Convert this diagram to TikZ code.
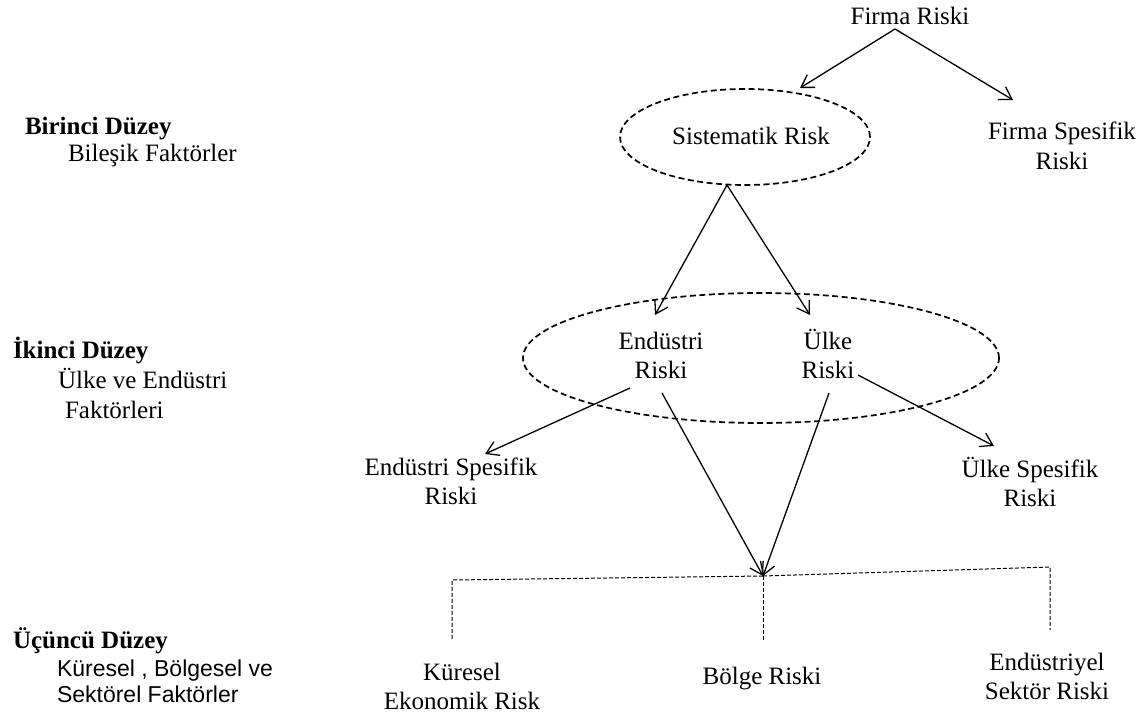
\documentclass[tikz,border=0pt]{standalone}
\usepackage{fontspec}
\setmainfont{Liberation Serif}
\newfontfamily\sansf{Liberation Sans}
\usetikzlibrary{shapes.geometric,arrows.meta}

\begin{document}
\begin{tikzpicture}[x=1pt,y=-1pt,
  lbl/.style={inner sep=0pt,outer sep=0pt,anchor=base,align=center,
              font=\fontsize{25}{29}\selectfont},
  side/.style={inner sep=0pt,outer sep=0pt,anchor=base west,
               font=\fontsize{25}{29}\selectfont},
  sideb/.style={side,font=\fontsize{25}{29}\selectfont\bfseries},
  sides/.style={side,font=\fontsize{23}{27}\selectfont\sansf},
  zone/.style={ellipse,draw,inner sep=0pt,outer sep=0pt,line width=1.7pt,
               dash pattern=on 6pt off 3.5pt},
  conn/.style={line width=1.3pt,-{Straight Barb[length=12pt,width=15pt]}},
  guide/.style={line width=1pt,dash pattern=on 4pt off 2pt}]

\useasboundingbox (0,0) rectangle (1147,722);

% level captions on the left
\node[sideb] (l1a) at (25,135) {Birinci Düzey};
\node[side]  (l1b) at (68,162) {Bileşik Faktörler};
\node[sideb] (l2a) at (13,358) {İkinci Düzey};
\node[side]  (l2b) at (58,388) {Ülke ve Endüstri};
\node[side]  (l2c) at (65,418) {Faktörleri};
\node[sideb] (l3a) at (13,648) {Üçüncü Düzey};
\node[sides] (l3b) at (57,676) {Küresel , Bölgesel ve};
\node[sides] (l3c) at (57,702) {Sektörel Faktörler};

% risk tree (base = baseline of the last line)
\node[lbl] (firma) at (910,25) {Firma Riski};
\node[zone,minimum width=250pt,minimum height=96pt] (sys) at (745,137) {};
\node[lbl] (systxt) at (751,145) {Sistematik Risk};
\node[lbl] (fsr) at (1062,169) {Firma Spesifik\\Riski};

\node[zone,minimum width=476pt,minimum height=130pt] (grp) at (761,358) {};
\node[lbl] (endr) at (661,378) {Endüstri\\Riski};
\node[lbl] (ulker) at (828,378) {Ülke\\Riski};

\node[lbl] (esr) at (451,504) {Endüstri Spesifik\\Riski};
\node[lbl] (usr) at (1030,506) {Ülke Spesifik\\Riski};

\coordinate (jn) at (763,576);

\node[lbl] (kur) at (462,709) {Küresel\\Ekonomik Risk};
\node[lbl] (bol) at (762,684) {Bölge Riski};
\node[lbl] (sek) at (1047,699) {Endüstriyel\\Sektör Riski};

% connectors
\draw[conn] ([shift={(-15,4)}]firma.base) -- ([shift={(55,-1)}]sys.north);
\draw[conn] ([shift={(-15,4)}]firma.base) -- ([shift={(-49,-69)}]fsr.base);
\draw[conn] ([shift={(-18,0)}]sys.south) -- ([shift={(-6,-63)}]endr.base);
\draw[conn] ([shift={(-18,0)}]sys.south) -- ([shift={(-18,-63)}]ulker.base);
\draw[conn] ([shift={(-31,10)}]endr.base) -- ([shift={(34,-50)}]esr.base);
\draw[conn] ([shift={(30,-3)}]ulker.base) -- ([shift={(-36,-60)}]usr.base);
\draw[conn] ([shift={(1,15)}]endr.base) -- (jn);
\draw[conn] ([shift={(1,15)}]ulker.base) -- (jn);

% dashed distribution lines
\draw[guide] (jn) -- ([shift={(-10,-129)}]kur.base) -- ([shift={(-10,-69)}]kur.base);
\draw[guide] (jn) -- ([shift={(1,-44)}]bol.base);
\draw[guide] (jn) -- ([shift={(3,-132)}]sek.base) -- ([shift={(3,-69)}]sek.base);
\end{tikzpicture}
\end{document}
